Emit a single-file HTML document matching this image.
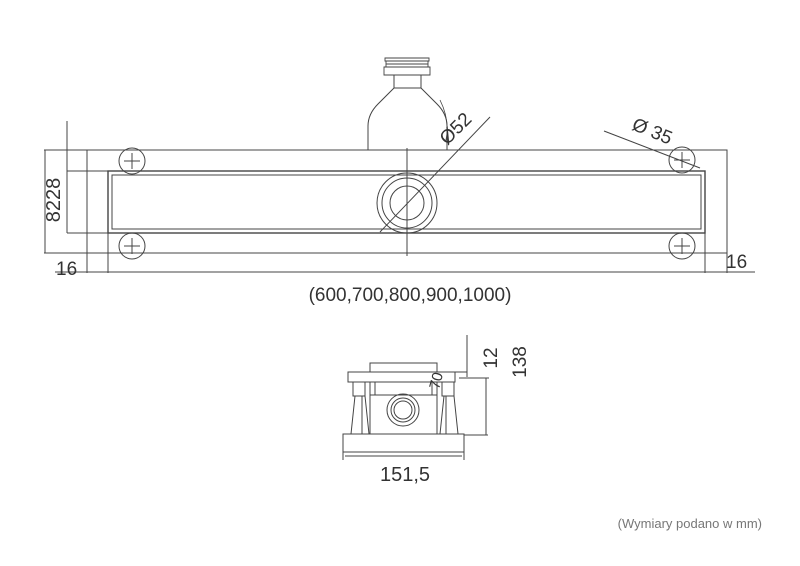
<!DOCTYPE html>
<html><head><meta charset="utf-8"><style>
html,body{margin:0;padding:0;background:#fff;width:800px;height:566px;overflow:hidden}
svg text{font-family:"Liberation Sans",sans-serif;fill:#333}
</style></head><body>
<svg width="800" height="566" viewBox="0 0 800 566" xmlns="http://www.w3.org/2000/svg">
<g fill="none" stroke="#444" stroke-width="1">
<!-- bottle -->
<path d="M385 58h44v3h-44zM386 61h42v3h-42zM386 64h42v3h-42zM384 67h46v8h-46z" stroke-width="0.9"/>
<path d="M394 75v13h27v-13"/>
<path d="M394 88 L378 104 Q368 114 368 126 V150 M421 88 L437 104 Q447 114 447 126 V150"/>
<!-- plan -->
<rect x="87" y="150" width="640" height="103"/>
<rect x="108" y="171" width="597" height="62" stroke-width="1.4"/>
<rect x="112" y="175" width="589" height="54"/>
<line x1="407" y1="148" x2="407" y2="256"/>
<circle cx="407" cy="203" r="30"/><circle cx="407" cy="203" r="25"/><circle cx="407" cy="203" r="17"/>
<circle cx="132" cy="161" r="13"/><path d="M124 161h16M132 153v16"/>
<circle cx="132" cy="246" r="13"/><path d="M124 246h16M132 238v16"/>
<circle cx="682" cy="160" r="13"/><path d="M674 160h16M682 152v16"/>
<circle cx="682" cy="246" r="13"/><path d="M674 246h16M682 238v16"/>
<!-- dims -->
<path d="M44 150h43M44 253h43M45 150v103M67 121v112M67 171h41M67 233h41"/>
<path d="M87 253v20M108 233v40M55 272h700M705 233v40M727 253v20"/>
<path d="M380 232L490 117"/>
<path d="M604 131L700 168"/>
<path d="M446 140 Q450 120 440 100" stroke-width="0.8"/>
<!-- section -->
<rect x="343" y="434" width="121" height="18"/>
<rect x="348" y="372" width="107" height="10"/>
<rect x="370" y="363" width="67" height="9"/>
<rect x="370" y="382" width="67" height="52"/>
<path d="M370 395h67M375 382v13M432 382v13"/>
<circle cx="403" cy="410" r="16"/><circle cx="403" cy="410" r="12"/><circle cx="403" cy="410" r="9"/>
<path d="M353 382v14h12v-14M355 396l-4 38h18l-4-38M442 382v14h12v-14M444 396l-4 38h18l-4-38"/>
<path d="M362 396v38M446 396v38"/>
<path d="M467 335v42M437 372h30M459 378h30M486 378v57M464 435h24"/>
<path d="M343 452v8M464 452v8M345 456h117"/>
</g>
<text x="60" y="200" font-size="20" transform="rotate(-90 60 200)" text-anchor="middle">8228</text>
<text x="56" y="275" font-size="19">16</text>
<text x="726" y="268" font-size="19">16</text>
<text x="410" y="301" font-size="19" text-anchor="middle">(600,700,800,900,1000)</text>
<text x="460" y="133" font-size="19" transform="rotate(-45 460 133)" text-anchor="middle">Ø52</text>
<text x="650" y="137" font-size="19" transform="rotate(22 650 137)" text-anchor="middle">Ø  35</text>
<text x="497" y="358" font-size="19" transform="rotate(-90 497 358)" text-anchor="middle">12</text>
<text x="526" y="362" font-size="19" transform="rotate(-90 526 362)" text-anchor="middle">138</text>
<text x="441" y="382" font-size="15" transform="rotate(-75 441 382)" text-anchor="middle">70</text>
<text x="405" y="481" font-size="20" text-anchor="middle">151,5</text>
<text x="762" y="528" font-size="13" text-anchor="end" style="fill:#777">(Wymiary podano w mm)</text>
</svg>
</body></html>
